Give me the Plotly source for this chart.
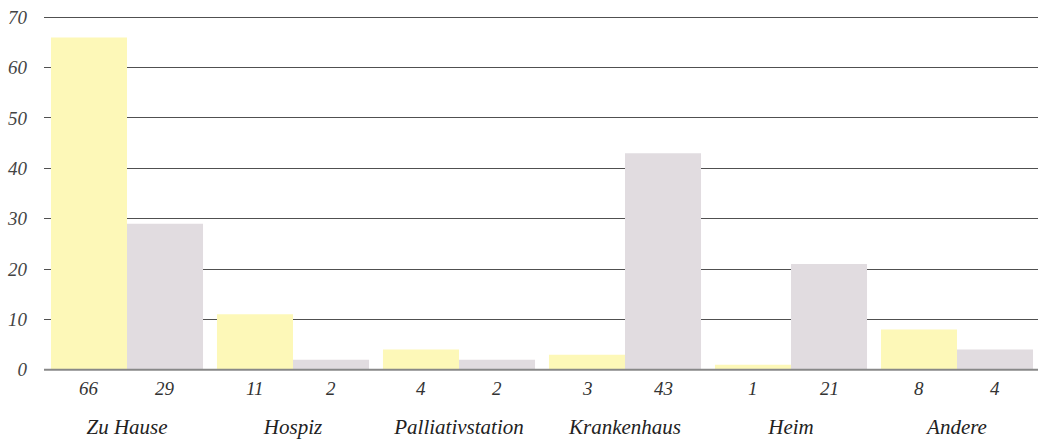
import plotly.graph_objects as go

categories = ["Zu Hause", "Hospiz", "Palliativstation", "Krankenhaus", "Heim", "Andere"]
series_a = [66, 11, 4, 3, 1, 8]
series_b = [29, 2, 2, 43, 21, 4]
y_ticks = [0, 10, 20, 30, 40, 50, 60, 70]

col_a = "#FDF8B8"
col_b = "#E1DCE0"
font_family = "Liberation Serif"

fig = go.Figure()
fig.add_trace(go.Bar(x=categories, y=series_a, marker_color=col_a, marker_line_width=0, name="A"))
fig.add_trace(go.Bar(x=categories, y=series_b, marker_color=col_b, marker_line_width=0, name="B"))

annotations = []
shift = 38
for c, a, b in zip(categories, series_a, series_b):
    for v, dx in ((a, -shift), (b, shift)):
        annotations.append(dict(x=c, y=0, xref="x", yref="y", text=f"<i>{v}</i>", showarrow=False,
                                xshift=dx, yshift=-19, font=dict(family=font_family, size=19, color="#333")))

fig.add_shape(type="line", xref="paper", yref="y", x0=0, x1=1, y0=0, y1=0,
              line=dict(color="#888", width=2), layer="above")

fig.update_layout(
    width=1040, height=440,
    margin=dict(l=44, r=0, t=16, b=69),
    paper_bgcolor="white", plot_bgcolor="white",
    barmode="group", bargap=0.084, bargroupgap=0,
    showlegend=False,
    font=dict(family=font_family, color="#333"),
    annotations=annotations,
    xaxis=dict(
        tickvals=categories,
        ticktext=[f"<i>{c}</i>" for c in categories],
        tickfont=dict(family=font_family, size=21, color="#222"),
        ticks="", showgrid=False, showline=False, zeroline=False,
        ticklabelstandoff=41, automargin=False,
    ),
    yaxis=dict(
        range=[-0.25, 70.25], tickvals=y_ticks,
        ticktext=[f"<i>{t}</i>" for t in y_ticks],
        tickfont=dict(family=font_family, size=19, color="#444"),
        showgrid=True, gridcolor="#505050", gridwidth=1.2,
        zeroline=False,
        ticks="", ticklabelstandoff=16, layer="below traces", automargin=False,
    ),
)

fig.write_html(
    "out.html",
    config={"displayModeBar": False},
    post_script="document.body.style.margin='0';document.body.style.overflow='hidden';",
)
